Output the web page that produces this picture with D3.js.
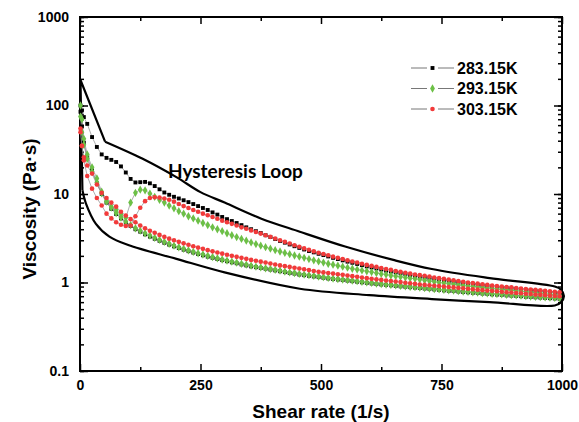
<!DOCTYPE html>
<html>
<head>
<meta charset="utf-8">
<script src="https://cdn.jsdelivr.net/npm/d3@7"></script>
<style>
body { margin: 0; background: #fff; }
</style>
</head>
<body>
<div id="chart-area"></div>
<script>
// Viscosity vs shear rate, up + down curves at three temperatures
var shearRate = [1, 4, 8, 15, 25, 35, 45, 55, 65, 75,
    85, 95, 105, 115, 125, 135, 145, 155, 165, 175,
    185, 195, 205, 215, 225, 235, 245, 255, 265, 275,
    285, 295, 305, 315, 325, 335, 345, 355, 365, 375,
    385, 395, 405, 415, 425, 435, 445, 455, 465, 475,
    485, 495, 505, 515, 525, 535, 545, 555, 565, 575,
    585, 595, 605, 615, 625, 635, 645, 655, 665, 675,
    685, 695, 705, 715, 725, 735, 745, 755, 765, 775,
    785, 795, 805, 815, 825, 835, 845, 855, 865, 875,
    885, 895, 905, 915, 925, 935, 945, 955, 965, 975,
    985, 995];

// 283.15K
var visc283Up = [100, 88, 74, 62, 44, 34, 28, 25.6, 24.3, 23,
    20.5, 17.5, 14.8, 13.5, 13.6, 13.7, 13.2, 12.3, 11.3, 10.4,
    9.8, 9.3, 8.9, 8.5, 8.1, 7.7, 7.3, 6.95, 6.6, 6.2,
    5.85, 5.5, 5.2, 4.95, 4.7, 4.45, 4.2, 4.0, 3.8, 3.62,
    3.42, 3.26, 3.1, 2.95, 2.82, 2.69, 2.57, 2.46, 2.36, 2.27,
    2.19, 2.11, 2.04, 1.97, 1.9, 1.84, 1.78, 1.72, 1.67, 1.62,
    1.57, 1.52, 1.48, 1.44, 1.4, 1.36, 1.33, 1.3, 1.27, 1.24,
    1.21, 1.19, 1.16, 1.14, 1.12, 1.10, 1.08, 1.06, 1.04, 1.02,
    1.0, 0.985, 0.97, 0.955, 0.94, 0.925, 0.91, 0.9, 0.885, 0.875,
    0.865, 0.855, 0.845, 0.835, 0.825, 0.815, 0.805, 0.795, 0.785, 0.775,
    0.765, 0.755];
var visc283Down = [85, 58, 38, 26, 18.5, 13.2, 10.0, 8.0, 6.8, 5.95,
    5.3, 4.75, 4.35, 4.0, 3.75, 3.5, 3.3, 3.12, 2.96, 2.81,
    2.68, 2.56, 2.45, 2.35, 2.26, 2.18, 2.1, 2.03, 1.96, 1.9,
    1.84, 1.79, 1.74, 1.69, 1.65, 1.6, 1.56, 1.52, 1.49, 1.46,
    1.43, 1.4, 1.37, 1.34, 1.31, 1.28, 1.26, 1.23, 1.21, 1.19,
    1.17, 1.15, 1.13, 1.11, 1.095, 1.08, 1.065, 1.05, 1.035, 1.02,
    1.005, 0.99, 0.975, 0.96, 0.95, 0.94, 0.93, 0.915, 0.905, 0.895,
    0.885, 0.875, 0.865, 0.855, 0.845, 0.835, 0.825, 0.815, 0.805, 0.8,
    0.79, 0.78, 0.775, 0.765, 0.76, 0.75, 0.745, 0.735, 0.73, 0.725,
    0.715, 0.71, 0.705, 0.7, 0.69, 0.685, 0.68, 0.675, 0.67, 0.665,
    0.66, 0.655];

// 293.15K
var visc293Up = [100, 70, 42, 28, 20, 15, 10.6, 8.3, 7.2, 6.6,
    5.9, 5.4, 8.0, 10.3, 11.2, 11.0, 10.1, 9.3, 8.6, 8.0,
    7.4, 6.9, 6.4, 6.0, 5.6, 5.3, 5.0, 4.7, 4.45, 4.2,
    4.0, 3.8, 3.6, 3.42, 3.26, 3.11, 2.97, 2.84, 2.72, 2.61,
    2.51, 2.41, 2.32, 2.24, 2.16, 2.09, 2.02, 1.96, 1.9, 1.84,
    1.78, 1.73, 1.68, 1.63, 1.59, 1.55, 1.51, 1.47, 1.43, 1.4,
    1.37, 1.34, 1.31, 1.28, 1.25, 1.23, 1.2, 1.18, 1.16, 1.14,
    1.12, 1.1, 1.08, 1.06, 1.04, 1.02, 1.0, 0.985, 0.97, 0.955,
    0.94, 0.925, 0.91, 0.9, 0.89, 0.875, 0.865, 0.855, 0.845, 0.835,
    0.825, 0.815, 0.805, 0.795, 0.785, 0.775, 0.765, 0.755, 0.745, 0.735,
    0.725, 0.715];
var visc293Down = [75, 50, 36, 25, 18, 13.5, 10.2, 8.2, 7.0, 6.1,
    5.4, 4.85, 4.45, 4.1, 3.85, 3.6, 3.4, 3.2, 3.03, 2.88,
    2.74, 2.61, 2.5, 2.4, 2.31, 2.22, 2.14, 2.07, 2.0, 1.94,
    1.88, 1.82, 1.77, 1.72, 1.68, 1.63, 1.59, 1.55, 1.51, 1.48,
    1.45, 1.42, 1.39, 1.36, 1.33, 1.3, 1.28, 1.25, 1.23, 1.21,
    1.19, 1.17, 1.15, 1.13, 1.11, 1.095, 1.08, 1.065, 1.05, 1.035,
    1.02, 1.005, 0.99, 0.975, 0.96, 0.95, 0.94, 0.93, 0.915, 0.905,
    0.895, 0.885, 0.875, 0.865, 0.855, 0.845, 0.835, 0.825, 0.815, 0.81,
    0.8, 0.79, 0.785, 0.775, 0.77, 0.76, 0.755, 0.745, 0.74, 0.735,
    0.725, 0.72, 0.715, 0.71, 0.7, 0.695, 0.69, 0.685, 0.68, 0.675,
    0.67, 0.665];

// 303.15K
var visc303Up = [55, 35, 24, 16, 11.5, 9.0, 7.4, 6.0, 5.3, 4.8,
    4.5, 4.35, 4.4, 5.6, 7.0, 8.3, 9.0, 9.2, 9.1, 8.9,
    8.6, 8.2, 7.7, 7.3, 6.95, 6.6, 6.3, 6.0, 5.75, 5.5,
    5.25, 5.0, 4.8, 4.6, 4.4, 4.2, 4.05, 3.88, 3.72, 3.57,
    3.42, 3.28, 3.14, 3.0, 2.88, 2.76, 2.64, 2.53, 2.43, 2.34,
    2.25, 2.17, 2.1, 2.03, 1.96, 1.9, 1.84, 1.78, 1.73, 1.68,
    1.63, 1.58, 1.54, 1.5, 1.46, 1.42, 1.39, 1.35, 1.32, 1.29,
    1.26, 1.23, 1.21, 1.19, 1.17, 1.14, 1.12, 1.1, 1.08, 1.06,
    1.04, 1.02, 1.0, 0.985, 0.97, 0.955, 0.94, 0.925, 0.91, 0.9,
    0.89, 0.88, 0.865, 0.855, 0.845, 0.835, 0.825, 0.815, 0.805, 0.795,
    0.785, 0.775];
var visc303Down = [50, 35, 26, 21, 17, 12.8, 10.3, 9.0, 8.0, 7.2,
    6.3, 5.7, 5.2, 4.8, 4.4, 4.1, 3.85, 3.65, 3.45, 3.28,
    3.13, 3.0, 2.88, 2.77, 2.67, 2.57, 2.48, 2.4, 2.32, 2.25,
    2.18, 2.12, 2.06, 2.0, 1.95, 1.9, 1.85, 1.8, 1.76, 1.72,
    1.68, 1.64, 1.6, 1.56, 1.53, 1.5, 1.47, 1.44, 1.41, 1.38,
    1.35, 1.32, 1.3, 1.28, 1.26, 1.24, 1.22, 1.2, 1.18, 1.16,
    1.14, 1.12, 1.1, 1.085, 1.07, 1.055, 1.04, 1.025, 1.01, 0.995,
    0.98, 0.965, 0.95, 0.94, 0.93, 0.92, 0.91, 0.9, 0.89, 0.88,
    0.87, 0.86, 0.85, 0.84, 0.83, 0.82, 0.81, 0.805, 0.795, 0.785,
    0.775, 0.77, 0.76, 0.755, 0.745, 0.74, 0.73, 0.725, 0.72, 0.71,
    0.705, 0.7];

// hand drawn loop around all the curves
var loopEdgeShear = [5, 1, 52];
var loopEdgeVisc = [11, 194, 39];
var loopShear = [52, 130, 200, 250, 300, 375, 456, 550, 650, 730, 850, 985, 998, 1004, 998, 985,
    850, 730, 600, 456, 300, 200, 100, 61, 33, 12, 5];
var loopVisc = [39, 25, 15.5, 10.5, 8, 5.3, 3.75, 2.55, 1.8, 1.42, 1.12, 0.9, 0.83, 0.7, 0.6, 0.55,
    0.6, 0.65, 0.72, 0.85, 1.3, 1.85, 2.65, 3.3, 4.6, 7.9, 11];

var xTicks = [0, 250, 500, 750, 1000];
var xMinorTicks = [125, 375, 625, 875];
var yTicks = [0.1, 1, 10, 100, 1000];
var seriesNames = ["283.15K", "293.15K", "303.15K"];

var margin = {left: 80, right: 17, top: 17, bottom: 51};
var width = 579 - margin.left - margin.right,
    height = 422 - margin.top - margin.bottom;

var font = "'Liberation Sans', Arial, sans-serif";

var svg = d3.select("#chart-area").append("svg")
    .attr("width", width + margin.left + margin.right)
    .attr("height", height + margin.top + margin.bottom);

var g = svg.append("g").attr("transform", "translate(" + margin.left + ", " + margin.top + ")");

var x = d3.scaleLinear().domain([0, 1000]).range([0, width]);
var y = d3.scaleLog().domain([0.1, 1000]).range([height, 0]);

function styleAxis(sel) {
    sel.select(".domain").remove();
    sel.selectAll(".tick line").attr("stroke", "#000").attr("stroke-width", 1.5);
    sel.selectAll("text")
        .attr("font-family", font)
        .attr("font-weight", "bold")
        .attr("font-size", "14px")
        .attr("fill", "#000");
}

// bottom + top
g.append("g").attr("transform", "translate(0, " + height + ")")
    .call(d3.axisBottom(x).tickValues(xTicks).tickSizeInner(-7).tickSizeOuter(0).tickPadding(9).tickFormat(d3.format("d")))
    .call(styleAxis);
g.append("g").attr("transform", "translate(0, " + height + ")")
    .call(d3.axisBottom(x).tickValues(xMinorTicks).tickSizeInner(-4).tickSizeOuter(0).tickFormat(""))
    .call(styleAxis);
g.append("g")
    .call(d3.axisTop(x).tickValues(xTicks).tickSizeInner(-7).tickSizeOuter(0).tickFormat(""))
    .call(styleAxis);
g.append("g")
    .call(d3.axisTop(x).tickValues(xMinorTicks).tickSizeInner(-4).tickSizeOuter(0).tickFormat(""))
    .call(styleAxis);

// left + right
g.append("g")
    .call(d3.axisLeft(y).tickValues(yTicks).tickSizeInner(-8).tickSizeOuter(0).tickPadding(11).tickFormat(d3.format("~g")))
    .call(styleAxis);
g.append("g")
    .call(d3.axisLeft(y).tickValues(y.ticks()).tickSizeInner(-4).tickSizeOuter(0).tickFormat(""))
    .call(styleAxis);
g.append("g").attr("transform", "translate(" + width + ", 0)")
    .call(d3.axisRight(y).tickValues(yTicks).tickSizeInner(-8).tickSizeOuter(0).tickFormat(""))
    .call(styleAxis);
g.append("g").attr("transform", "translate(" + width + ", 0)")
    .call(d3.axisRight(y).tickValues(y.ticks()).tickSizeInner(-4).tickSizeOuter(0).tickFormat(""))
    .call(styleAxis);

// frame
g.append("rect")
    .attr("width", width)
    .attr("height", height)
    .attr("fill", "none")
    .attr("stroke", "#000")
    .attr("stroke-width", 2);

// axis labels
g.append("text")
    .attr("x", width / 2)
    .attr("y", height + 47)
    .attr("text-anchor", "middle")
    .attr("font-family", font)
    .attr("font-weight", "bold")
    .attr("font-size", "19px")
    .text("Shear rate (1/s)");
g.append("text")
    .attr("transform", "rotate(-90)")
    .attr("x", -192)
    .attr("y", -44)
    .attr("text-anchor", "middle")
    .attr("font-family", font)
    .attr("font-weight", "bold")
    .attr("font-size", "19px")
    .text("Viscosity (Pa\u00b7s)");

// loop outline
var loopLine = d3.line()
    .x(function(d) { return x(d[0]); })
    .y(function(d) { return y(d[1]); });
g.append("path")
    .datum(loopEdgeShear.map(function(s, i) { return [s, loopEdgeVisc[i]]; }))
    .attr("d", loopLine)
    .attr("fill", "none")
    .attr("stroke", "#000")
    .attr("stroke-width", 2.2)
    .attr("stroke-linejoin", "round");
g.append("path")
    .datum(loopShear.map(function(s, i) { return [s, loopVisc[i]]; }))
    .attr("d", loopLine.curve(d3.curveCatmullRom.alpha(0.5)))
    .attr("fill", "none")
    .attr("stroke", "#000")
    .attr("stroke-width", 2.2);

g.append("text")
    .attr("x", 88)
    .attr("y", 161)
    .attr("font-family", "Lato, 'Open Sans', sans-serif")
    .attr("font-weight", "bold")
    .attr("font-size", "19px")
    .text("Hysteresis Loop");

// series: up curve then back down
var series = [
    {name: seriesNames[0], up: visc283Up, down: visc283Down, color: "#000000", shape: "square"},
    {name: seriesNames[1], up: visc293Up, down: visc293Down, color: "#6cc046", shape: "diamond"},
    {name: seriesNames[2], up: visc303Up, down: visc303Down, color: "#f23a3a", shape: "circle"}
];

series.forEach(function(s) {
    var upPts = shearRate.map(function(r, i) { return [r, s.up[i]]; });
    var downPts = shearRate.map(function(r, i) { return [r, s.down[i]]; }).reverse();
    s.points = upPts.concat(downPts);
});

var thinLine = d3.line()
    .x(function(d) { return x(d[0]); })
    .y(function(d) { return y(d[1]); });

series.forEach(function(s) {
    g.append("path")
        .datum(s.points)
        .attr("d", thinLine)
        .attr("fill", "none")
        .attr("stroke", "#8a8a8a")
        .attr("stroke-width", 0.7);
});

function drawMarker(sel, s) {
    if (s.shape == "circle") {
        sel.append("circle").attr("r", 2.3).attr("fill", s.color);
    } else {
        var type = s.shape == "square" ? d3.symbolSquare : d3.symbolDiamond;
        var size = s.shape == "square" ? 15 : 20;
        sel.append("path").attr("d", d3.symbol().type(type).size(size)).attr("fill", s.color);
    }
}

series.forEach(function(s) {
    g.append("g").selectAll("g")
        .data(s.points)
        .enter().append("g")
        .attr("transform", function(d) { return "translate(" + x(d[0]) + "," + y(d[1]) + ")"; })
        .each(function() { drawMarker(d3.select(this), s); });
});

// legend
var legend = g.append("g").attr("transform", "translate(331, 51)");
series.forEach(function(s, i) {
    var row = legend.append("g").attr("transform", "translate(0, " + (i * 20.5) + ")");
    row.append("line").attr("x1", 0).attr("x2", 16).attr("stroke", "#777").attr("stroke-width", 1);
    row.append("line").attr("x1", 27).attr("x2", 43).attr("stroke", "#777").attr("stroke-width", 1);
    drawMarker(row.append("g").attr("transform", "translate(21.5, 0)"), s);
    row.append("text")
        .attr("x", 46)
        .attr("y", 0)
        .attr("dy", "0.35em")
        .attr("font-family", font)
        .attr("font-weight", "bold")
        .attr("font-size", "16px")
        .text(s.name);
});
</script>
</body>
</html>
